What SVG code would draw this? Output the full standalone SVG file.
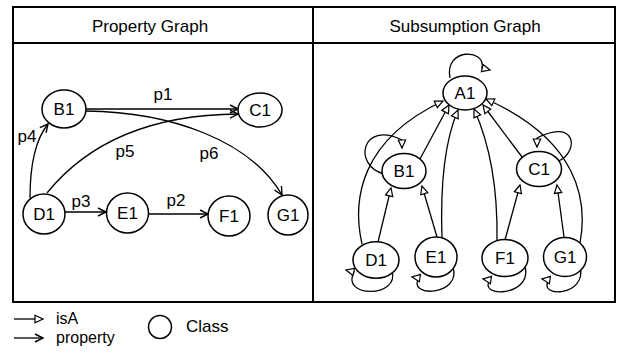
<svg xmlns="http://www.w3.org/2000/svg" width="620" height="354" viewBox="0 0 620 354">
<style>
text{font-family:"Liberation Sans",Arial,Helvetica,sans-serif;font-size:17px;fill:#000}
.c{text-anchor:middle}
.lg{font-size:16px}
.n{fill:#fff;stroke:#000;stroke-width:1.5}
.e{fill:none;stroke:#000;stroke-width:1.3}
.p{marker-end:url(#prop)}
.i{marker-end:url(#isa)}
.frame{fill:none;stroke:#000;stroke-width:2}
</style>
<defs>
<marker id="isa" markerUnits="userSpaceOnUse" markerWidth="14" markerHeight="12" refX="9" refY="4" orient="auto" overflow="visible"><path d="M1,0.3 L9,4 L1,7.7 z" fill="#fff" stroke="#000" stroke-width="1.2"/></marker>
<marker id="prop" markerUnits="userSpaceOnUse" markerWidth="14" markerHeight="12" refX="9" refY="4" orient="auto" overflow="visible"><path d="M1,0 L9,4 L1,8" fill="none" stroke="#000" stroke-width="1.4"/></marker>
</defs>
<g id="frame">
<rect class="frame" x="13" y="7" width="602" height="295"/>
<line class="frame" x1="13" y1="43" x2="615" y2="43"/>
<line class="frame" x1="313" y1="7" x2="313" y2="302"/>
<text class="c" x="150" y="32">Property Graph</text>
<text class="c" x="465" y="32">Subsumption Graph</text>
</g>
<g id="connectors">
<path class="e p" d="M86,109 L238,109"/>
<path class="e p" d="M30,198 C30,165 35,140 48,124"/>
<path class="e p" d="M47,193 Q110,115 238,114"/>
<path class="e p" d="M86,111 C170,112 250,140 282,195"/>
<path class="e p" d="M65,212 L106,212"/>
<path class="e p" d="M149,214 L208,214"/>
<path class="e i" d="M362,244 C352,200 360,140 443,101"/>
<path class="e i" d="M442,238 C440,180 445,140 458,110"/>
<path class="e i" d="M497,241 C498,180 488,140 474,109"/>
<path class="e i" d="M580,243 C588,200 578,140 486,99"/>
<path class="e i" d="M420,159 L449,105"/>
<path class="e i" d="M522,157 L483,105"/>
<path class="e i" d="M378,242 L391,188"/>
<path class="e i" d="M437,237 L422,186"/>
<path class="e i" d="M505,240 L520,185"/>
<path class="e i" d="M564,237 L557,185"/>
<path class="e i" d="M450,78 C444,48 486,48 482,68 L490,70"/>
<path class="e i" d="M384,174 C352,165 362,120 402,140 L402,148"/>
<path class="e i" d="M559,161 C580,150 575,118 537,138 L537,147"/>
<path class="e i" d="M392,271 C400,298 340,298 354,272 L346,270"/>
<path class="e i" d="M453,267 C462,296 406,298 419,278 L412,277"/>
<path class="e i" d="M525,266 C533,297 477,298 490,280 L483,279"/>
<path class="e i" d="M580,266 C588,297 536,298 549,280 L542,279"/>
</g>
<g id="L-B1"><ellipse class="n" cx="64" cy="109" rx="22" ry="19"/><text class="c" x="64" y="115">B1</text></g>
<g id="L-C1"><ellipse class="n" cx="260" cy="110" rx="22" ry="17"/><text class="c" x="260" y="116">C1</text></g>
<g id="L-D1"><ellipse class="n" cx="44" cy="214" rx="21" ry="20"/><text class="c" x="44" y="220">D1</text></g>
<g id="L-E1"><ellipse class="n" cx="127.5" cy="213" rx="21" ry="20"/><text class="c" x="127.5" y="219">E1</text></g>
<g id="L-F1"><ellipse class="n" cx="229" cy="216" rx="21" ry="20"/><text class="c" x="229" y="222">F1</text></g>
<g id="L-G1"><ellipse class="n" cx="288" cy="215" rx="20" ry="20"/><text class="c" x="288" y="221">G1</text></g>
<g id="labels">
<text class="c" x="163" y="100">p1</text>
<text class="c" x="27" y="142">p4</text>
<text class="c" x="125" y="157">p5</text>
<text class="c" x="209" y="159">p6</text>
<text class="c" x="81" y="207">p3</text>
<text class="c" x="176" y="206">p2</text>
</g>
<g id="R-A1"><ellipse class="n" cx="465" cy="93" rx="22" ry="17"/><text class="c" x="465" y="99">A1</text></g>
<g id="R-B1"><ellipse class="n" cx="404" cy="171" rx="22" ry="17.5"/><text class="c" x="404" y="177">B1</text></g>
<g id="R-C1"><ellipse class="n" cx="539" cy="169" rx="22.5" ry="17.5"/><text class="c" x="539" y="175">C1</text></g>
<g id="R-D1"><ellipse class="n" cx="376" cy="260" rx="23" ry="18.3"/><text class="c" x="376" y="266">D1</text></g>
<g id="R-E1"><ellipse class="n" cx="436" cy="257" rx="21" ry="20"/><text class="c" x="436" y="263">E1</text></g>
<g id="R-F1"><ellipse class="n" cx="505" cy="258" rx="23" ry="18.5"/><text class="c" x="505" y="264">F1</text></g>
<g id="R-G1"><ellipse class="n" cx="565" cy="257" rx="21.5" ry="19.5"/><text class="c" x="565" y="263">G1</text></g>
<g id="legend">
<path class="e i" d="M14,319 L43,319"/>
<text class="lg" x="56" y="324">isA</text>
<path class="e p" d="M14,338 L43,338"/>
<text class="lg" x="56" y="343">property</text>
<circle class="n" cx="160" cy="327" r="11.5"/>
<text x="186" y="332">Class</text>
</g>
</svg>
